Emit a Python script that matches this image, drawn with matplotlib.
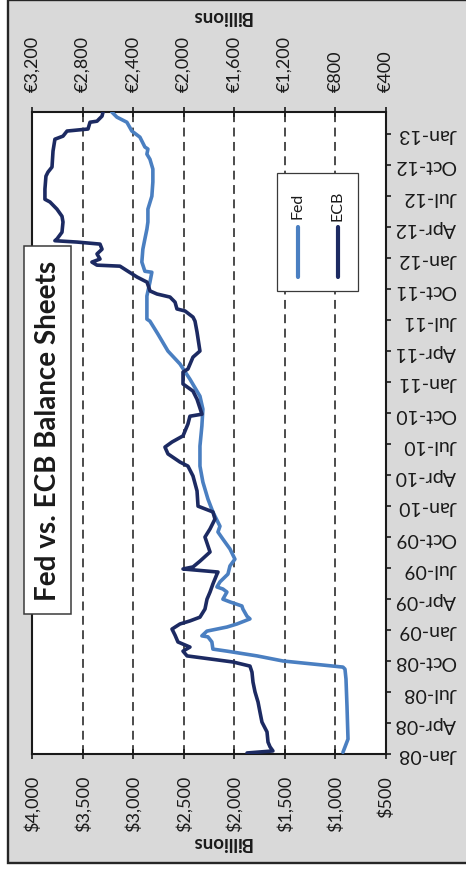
import matplotlib
matplotlib.use("Agg")
import matplotlib.pyplot as plt
from matplotlib.patches import Rectangle
from matplotlib.lines import Line2D
import pandas as pd

plt.rcParams["font.family"] = ["Lato", "DejaVu Sans"]

# ---- data (billions) ----
fed_dates = ['2008-01-06', '2008-02-14', '2008-05-21', '2008-08-09', '2008-09-07', '2008-09-13',
             '2008-10-01', '2008-10-16', '2008-10-30', '2008-11-05', '2008-11-26', '2008-12-11',
             '2008-12-14', '2008-12-28', '2009-01-09', '2009-01-18', '2009-02-02', '2009-02-10',
             '2009-03-03', '2009-03-12', '2009-03-24', '2009-04-01', '2009-04-22', '2009-05-01',
             '2009-05-07', '2009-05-22', '2009-06-14', '2009-07-08', '2009-07-28', '2009-08-27',
             '2009-09-25', '2009-10-16', '2009-11-02', '2009-12-14', '2010-01-21', '2010-03-12',
             '2010-04-28', '2010-06-26', '2010-08-24', '2010-10-13', '2010-11-20', '2011-01-09',
             '2011-02-23', '2011-04-02', '2011-05-22', '2011-06-29', '2011-07-05', '2011-09-11',
             '2011-10-22', '2011-11-20', '2011-11-23', '2011-12-20', '2012-01-27', '2012-02-26',
             '2012-03-26', '2012-04-16', '2012-05-24', '2012-07-01', '2012-08-12', '2012-09-19',
             '2012-10-18', '2012-11-02', '2012-11-17', '2012-11-23', '2012-12-22', '2013-01-09',
             '2013-02-04', '2013-02-19', '2013-03-06']
fed_values = [926, 876, 886, 896, 906, 926,
              1520, 1777, 2074, 2213, 2223, 2262,
              2322, 2272, 2074, 1975, 1846, 1876,
              1916, 1926, 2044, 2114, 2074, 2114,
              2173, 2143, 2064, 2044, 1995, 2044,
              2114, 2163, 2143, 2213, 2262, 2312,
              2341, 2341, 2322, 2312, 2341, 2440,
              2539, 2658, 2757, 2836, 2866, 2866,
              2836, 2817, 2886, 2916, 2906, 2886,
              2866, 2856, 2856, 2817, 2807, 2807,
              2836, 2866, 2856, 2886, 2935, 3015,
              3064, 3163, 3213]

ecb_dates = ['2008-01-04', '2008-01-10', '2008-01-22', '2008-02-05', '2008-03-06', '2008-04-04',
             '2008-05-04', '2008-06-02', '2008-07-02', '2008-07-31', '2008-08-29', '2008-09-16',
             '2008-09-28', '2008-10-16', '2008-10-30', '2008-11-11', '2008-11-26', '2008-12-16',
             '2009-01-03', '2009-01-18', '2009-01-27', '2009-02-07', '2009-03-03', '2009-04-01',
             '2009-04-22', '2009-05-16', '2009-06-14', '2009-06-20', '2009-06-29', '2009-07-05',
             '2009-07-22', '2009-08-18', '2009-10-01', '2009-10-25', '2009-11-23', '2009-12-14',
             '2009-12-31', '2010-02-14', '2010-03-30', '2010-04-28', '2010-05-10', '2010-06-03',
             '2010-06-23', '2010-07-08', '2010-07-26', '2010-08-30', '2010-09-22', '2010-09-28',
             '2010-11-11', '2010-12-05', '2010-12-26', '2011-01-30', '2011-02-08', '2011-03-15',
             '2011-04-02', '2011-05-28', '2011-06-29', '2011-07-11', '2011-07-29', '2011-08-04',
             '2011-08-24', '2011-09-08', '2011-09-17', '2011-09-26', '2011-10-22', '2011-11-06',
             '2011-11-23', '2011-12-08', '2011-12-11', '2011-12-20', '2011-12-29', '2012-01-13',
             '2012-01-27', '2012-02-11', '2012-02-17', '2012-02-21', '2012-02-26', '2012-03-17',
             '2012-04-16', '2012-05-03', '2012-05-24', '2012-06-14', '2012-06-22', '2012-07-22',
             '2012-08-29', '2012-09-10', '2012-09-25', '2012-11-11', '2012-12-16', '2012-12-25',
             '2013-01-09', '2013-01-15', '2013-02-04', '2013-02-07', '2013-02-22', '2013-03-06']
ecb_values = [1500, 1295, 1318, 1334, 1342, 1382,
              1398, 1413, 1437, 1453, 1461, 1477,
              1611, 1975, 2007, 1952, 2047, 2070,
              2094, 2031, 1952, 1873, 1833, 1817,
              1793, 1770, 1738, 1730, 2007, 1928,
              1873, 1793, 1833, 1793, 1754, 1770,
              1888, 1896, 1928, 1968, 2031, 2126,
              2150, 2094, 2007, 1968, 1952, 1857,
              1896, 1928, 2007, 2007, 1968, 1928,
              1873, 1896, 1912, 1928, 1991, 2055,
              2070, 2110, 2213, 2268, 2292, 2371,
              2443, 2506, 2688, 2728, 2664, 2688,
              2648, 2664, 2846, 3021, 3005, 2965,
              2957, 2965, 3005, 3060, 3100, 3100,
              3092, 3076, 3044, 3036, 3021, 2957,
              2925, 2759, 2743, 2688, 2648, 2640]

usd_ticks = [4000, 3500, 3000, 2500, 2000, 1500, 1000, 500]
usd_labels = ['$4,000', '$3,500', '$3,000', '$2,500', '$2,000', '$1,500', '$1,000', '$500']
eur_ticks = [3200, 2800, 2400, 2000, 1600, 1200, 800, 400]
eur_labels = ['€3,200', '€2,800', '€2,400', '€2,000', '€1,600', '€1,200', '€800', '€400']
quarter_labels = ['Jan-08', 'Apr-08', 'Jul-08', 'Oct-08', 'Jan-09', 'Apr-09', 'Jul-09',
                  'Oct-09', 'Jan-10', 'Apr-10', 'Jul-10', 'Oct-10', 'Jan-11', 'Apr-11',
                  'Jul-11', 'Oct-11', 'Jan-12', 'Apr-12', 'Jul-12', 'Oct-12', 'Jan-13']
date_start, date_end = '2008-01-01', '2013-03-07'

FED_COLOR = '#4a7fc1'
ECB_COLOR = '#1c2a62'
INK = '#1a1a1a'

# ---- figure (pixel helpers) ----
W, H = 466, 870
fig = plt.figure(figsize=(W / 100, H / 100), dpi=100, facecolor='white')


def fx(px):
    return px / W


def fy(py):
    return 1 - py / H


panel = Rectangle((fx(8.2), fy(863.5)), fx(500), (863.5 - 1.2) / H,
                  transform=fig.transFigure, facecolor='#d9d9d9',
                  edgecolor='#262626', linewidth=1.7, zorder=-10)
fig.add_artist(panel)

left, right, top, bottom = 32.3, 386.0, 112.7, 755.0
ax = fig.add_axes([fx(left), fy(bottom), fx(right) - fx(left), (bottom - top) / H])
ax.set_facecolor('white')

fed_t = pd.to_datetime(fed_dates)
ecb_t = pd.to_datetime(ecb_dates)

ax.plot(fed_values, fed_t, color=FED_COLOR, lw=2.6, solid_joinstyle='round',
        solid_capstyle='round', zorder=3)
ax.set_xlim(usd_ticks[0], usd_ticks[-1])
ax.set_ylim(pd.Timestamp(date_start), pd.Timestamp(date_end))

# value axis ($) at the bottom
ax.set_xticks(usd_ticks)
ax.set_xticklabels(usd_labels)
ax.tick_params(axis='x', direction='inout', length=7.2, width=1.2, color=INK,
               pad=11.5, labelsize=13, labelrotation=90, labelcolor=INK)
ax.xaxis.grid(True, linestyle=(0, (5.8, 3.6)), color=INK, linewidth=1.1)
ax.set_axisbelow(True)

# date axis on the right
quarter_pos = pd.to_datetime(quarter_labels, format='%b-%y')
ax.yaxis.tick_right()
ax.set_yticks(quarter_pos)
ax.set_yticklabels(quarter_labels, rotation=180, ha='right', va='center')
ax.tick_params(axis='y', direction='out', length=3.6, width=1.2, color=INK,
               pad=47.0, labelsize=14, labelcolor=INK)

for s in ax.spines.values():
    s.set_linewidth(1.5)
    s.set_color(INK)

ax.set_xlabel('Billions', fontsize=13.5, fontweight='bold', rotation=180, color=INK)
ax.xaxis.set_label_coords(0.5335, -0.137)
ax.xaxis.label.set_va('center')

# euro axis on top
ax2 = ax.twiny()
ax2.plot(ecb_values, ecb_t, color=ECB_COLOR, lw=2.6, solid_joinstyle='round',
         solid_capstyle='round', zorder=4)
ax2.set_xlim(eur_ticks[0], eur_ticks[-1])
ax2.set_xticks(eur_ticks)
ax2.set_xticklabels(eur_labels)
ax2.tick_params(axis='x', direction='inout', length=7.2, width=1.2, color=INK,
                pad=11.0, labelsize=13, labelrotation=90, labelcolor=INK)
for s in ax2.spines.values():
    s.set_visible(False)
ax2.set_xlabel('Billions', fontsize=13.5, fontweight='bold', rotation=180, color=INK)
ax2.xaxis.set_label_coords(0.5335, 1.149)
ax2.xaxis.label.set_va('center')

# title box
fig.add_artist(Rectangle((fx(24), fy(615)), fx(70.7) - fx(24), (615 - 246.7) / H,
                         transform=fig.transFigure, facecolor='white',
                         edgecolor='#3a3a3a', linewidth=1.1, zorder=5))
fig.text(fx(47.6), fy(430.5), 'Fed vs. ECB Balance Sheets', rotation=90,
         ha='center', va='center', fontsize=20, fontweight='bold', color=INK, zorder=6)

# legend box
fig.add_artist(Rectangle((fx(277), fy(292)), fx(358) - fx(277), (292 - 174) / H,
                         transform=fig.transFigure, facecolor='white',
                         edgecolor='#3a3a3a', linewidth=0.9, zorder=5))
for xc, name, col in [(297.5, 'Fed', FED_COLOR), (337.5, 'ECB', ECB_COLOR)]:
    fig.add_artist(Line2D([fx(xc), fx(xc)], [fy(278), fy(227.5)], transform=fig.transFigure,
                          color=col, lw=3.0, solid_capstyle='round', zorder=6))
    fig.text(fx(xc), fy(206), name, rotation=90, ha='center', va='center',
             fontsize=11.5, color=INK, zorder=6)

fig.savefig('out.png', dpi=100, facecolor='white')
